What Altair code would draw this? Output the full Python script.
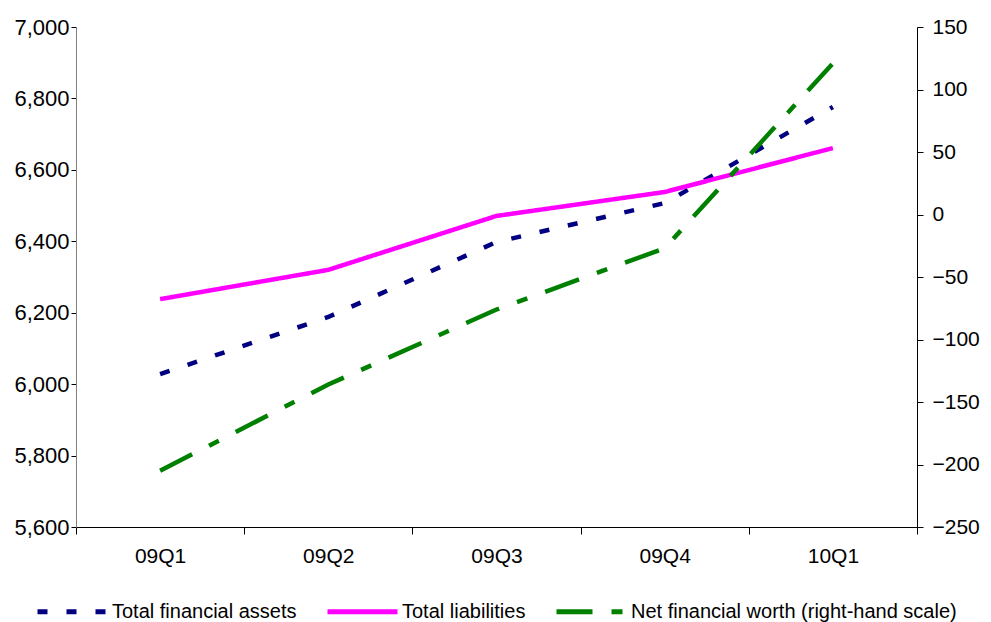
import altair as alt
import pandas as pd

quarters = ["09Q1", "09Q2", "09Q3", "09Q4", "10Q1"]
assets = [6028, 6188, 6398, 6507, 6776]
liabilities = [6238, 6320, 6471, 6538, 6661]
net_worth = [-205, -136, -76, -27, 121]

s_assets = "Total financial assets"
s_liab = "Total liabilities"
s_net = "Net financial worth (right-hand scale)"
series_order = [s_assets, s_liab, s_net]

left_df = pd.DataFrame(
    [{"quarter": q, "series": s_assets, "value": v} for q, v in zip(quarters, assets)]
    + [{"quarter": q, "series": s_liab, "value": v} for q, v in zip(quarters, liabilities)]
)
right_df = pd.DataFrame(
    [{"quarter": q, "series": s_net, "value": v} for q, v in zip(quarters, net_worth)]
)

FONT = "Liberation Sans"

legend_cfg = dict(
    title=None, orient="none", direction="horizontal", legendX=-41, legendY=547,
    symbolType="stroke", symbolSize=4900, symbolStrokeWidth=5, labelFontSize=20,
    labelFont=FONT, labelColor="black", columnPadding=20, labelOffset=2,
    labelLimit=500,
)

x_scale = alt.Scale(type="band", domain=quarters, paddingInner=0, paddingOuter=0)

x_axis = alt.Axis(
    title=None, tickBand="extent", tickSize=7, labelPadding=11, labelFontSize=21,
    labelAngle=0, domainColor="black", tickColor="black", labelColor="black",
    labelFont=FONT, grid=False,
)

color_enc = alt.Color(
    "series:N",
    scale=alt.Scale(domain=series_order, range=["#000080", "#FF00FF", "#008000"]),
    sort=series_order,
    legend=alt.Legend(**legend_cfg),
)
dash_enc = alt.StrokeDash(
    "series:N",
    scale=alt.Scale(domain=series_order, range=[[10, 19], [1, 0], [36, 19, 11, 19]]),
    sort=series_order,
    legend=alt.Legend(**legend_cfg),
)

left = alt.Chart(left_df).mark_line(strokeWidth=4.5).encode(
    x=alt.X("quarter:N", sort=quarters, scale=x_scale, axis=x_axis),
    y=alt.Y(
        "value:Q",
        scale=alt.Scale(domain=[5600, 7000], nice=False, zero=False),
        axis=alt.Axis(
            title=None, orient="left", values=list(range(5600, 7001, 200)), format=",.0f",
            tickSize=5, labelPadding=2, labelFontSize=22, labelFont=FONT,
            domainColor="#808080", tickColor="black", labelColor="black", grid=False,
        ),
    ),
    color=color_enc,
    strokeDash=dash_enc,
)

right = alt.Chart(right_df).mark_line(strokeWidth=4.5).encode(
    x=alt.X("quarter:N", sort=quarters, scale=x_scale, axis=x_axis),
    y=alt.Y(
        "value:Q",
        scale=alt.Scale(domain=[-250, 150], nice=False, zero=False),
        axis=alt.Axis(
            title=None, orient="right", values=list(range(-250, 151, 50)), format=",.0f",
            tickSize=6, labelPadding=9, labelFontSize=21, labelFont=FONT,
            domainColor="black", tickColor="black", labelColor="black", grid=False,
        ),
    ),
    color=color_enc,
    strokeDash=dash_enc,
)

chart = (
    alt.layer(left, right)
    .resolve_scale(y="independent")
    .properties(
        width=841, height=500,
        background="white",
        autosize=alt.AutoSizeParams(type="none"),
        padding={"left": 68, "top": 19, "right": 66, "bottom": 95},
    )
    .configure_view(stroke=None, strokeWidth=0)
    .configure_axis(grid=False)
)

chart.save("out.html", embed_options={"renderer": "svg", "actions": False})
